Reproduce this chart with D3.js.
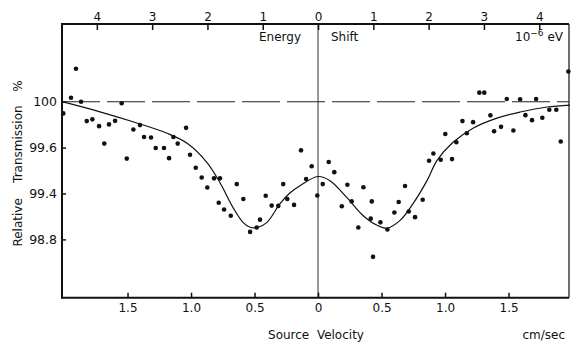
<!DOCTYPE html>
<html><head><meta charset="utf-8">
<script src="https://cdn.jsdelivr.net/npm/d3@7"></script>
<style>
html,body{margin:0;padding:0;background:#fff;}
svg text{font-family:"DejaVu Sans",sans-serif;fill:#111;}
</style></head>
<body><svg id="c" width="571" height="343"></svg>
<script>
// ---- data ----
const velX = [-2.006,-1.945,-1.906,-1.866,-1.821,-1.777,-1.724,-1.683,-1.646,-1.598,-1.546,-1.506,-1.454,-1.402,-1.370,-1.315,-1.278,-1.213,-1.173,-1.139,-1.105,-1.039,-1.008,-0.963,-0.916,-0.872,-0.819,-0.772,-0.782,-0.740,-0.687,-0.640,-0.588,-0.535,-0.483,-0.457,-0.412,-0.365,-0.313,-0.274,-0.242,-0.189,-0.134,-0.094,-0.050,-0.006,0.037,0.084,0.128,0.187,0.231,0.265,0.317,0.357,0.423,0.415,0.433,0.491,0.546,0.601,0.635,0.685,0.714,0.764,0.824,0.874,0.908,0.966,1.002,1.055,1.089,1.137,1.171,1.221,1.270,1.309,1.357,1.386,1.441,1.486,1.538,1.591,1.633,1.685,1.717,1.766,1.821,1.876,1.911,1.971];
const transY = [99.898,100.035,100.287,100.0,99.831,99.846,99.787,99.635,99.802,99.833,99.986,99.552,99.758,99.796,99.693,99.688,99.598,99.598,99.554,99.693,99.635,99.772,99.569,99.512,99.470,99.426,99.466,99.466,99.280,99.190,99.109,99.441,99.328,98.898,98.955,99.058,99.370,99.242,99.238,99.441,99.328,99.251,99.588,99.463,99.519,99.374,99.441,99.537,99.493,99.233,99.438,99.297,98.955,99.427,99.297,99.071,98.572,99.023,98.929,99.152,99.289,99.433,99.164,99.091,99.319,99.543,99.574,99.547,99.719,99.550,99.646,99.831,99.725,99.822,100.079,100.079,99.881,99.743,99.781,100.024,99.749,100.021,99.883,99.839,100.024,99.860,99.930,99.930,99.653,100.263];
const fitX = [-2.016,-1.717,-1.457,-1.189,-1.031,-0.874,-0.772,-0.669,-0.591,-0.535,-0.472,-0.402,-0.299,-0.220,-0.142,0,0.094,0.228,0.354,0.465,0.543,0.646,0.748,0.858,0.937,1.063,1.220,1.409,1.591,1.803,1.984];
const fitY = [100.0,99.912,99.825,99.725,99.638,99.535,99.447,99.216,99.023,98.959,98.959,99.023,99.267,99.403,99.434,99.474,99.456,99.345,99.113,98.984,98.946,99.049,99.267,99.456,99.544,99.646,99.769,99.857,99.910,99.954,99.971];
const velTicks = [-1.5,-1.0,-0.5,0,0.5,1.0,1.5];
const velTickLabels = ["1.5","1.0","0.5","0","0.5","1.0","1.5"];
const energyTicks = [-4,-3,-2,-1,0,1,2,3,4];
const yTicks = [98.8,99.4,99.6,100];
const yTickLabels = ["98.8","99.4","99.6","100"];
const velDomain = [-2.016, 1.976];
const cmPerEnergyUnit = 0.4354; // cm/sec per 10^-6 eV
const baseline = 100;

// ---- layout ----
const L = 62, R = 569, T = 24, B = 297.7;
const svg = d3.select("#c");
const x = d3.scaleLinear().domain(velDomain).range([L, R]);
const e = d3.scaleLinear().domain(velDomain.map(v => v / cmPerEnergyUnit)).range([L, R]);
const yStep = 45.9, y100 = 101.7;
const y = d3.scaleLinear().domain(yTicks)
  .range(yTicks.map((d, i) => y100 + (yTicks.length - 1 - i) * yStep));

// frame
const g = svg.append("g");
g.append("line").attr("x1", L).attr("x2", L).attr("y1", T - 1).attr("y2", B + 1).attr("stroke", "#111").attr("stroke-width", 2);
g.append("line").attr("x1", L).attr("x2", R).attr("y1", B).attr("y2", B).attr("stroke", "#111").attr("stroke-width", 2);
g.append("line").attr("x1", L).attr("x2", R).attr("y1", T).attr("y2", T).attr("stroke", "#111").attr("stroke-width", 2);
g.append("line").attr("x1", R).attr("x2", R).attr("y1", T).attr("y2", B).attr("stroke", "#222").attr("stroke-width", 1.3);
// zero line
g.append("line").attr("x1", x(0)).attr("x2", x(0)).attr("y1", T).attr("y2", B).attr("stroke", "#333").attr("stroke-width", 1);
// dashed 100% line
g.append("line").attr("x1", L).attr("x2", R).attr("y1", y(baseline)).attr("y2", y(baseline))
  .attr("stroke", "#222").attr("stroke-width", 1.1).attr("stroke-dasharray", "38,7");

// bottom axis
const bx = d3.axisBottom(x).tickValues(velTicks).tickSizeInner(-5).tickSizeOuter(0)
  .tickFormat((d, i) => velTickLabels[i]).tickPadding(6);
const gb = svg.append("g").attr("transform", `translate(0,${B})`).call(bx);
gb.select(".domain").remove();
gb.selectAll("line").attr("stroke", "#111").attr("stroke-width", 1.5);
gb.selectAll("text").attr("font-size", 12).style("fill", "#111");

// top axis
const tx = d3.axisTop(e).tickValues(energyTicks).tickSizeInner(-6).tickSizeOuter(0)
  .tickFormat(d => Math.abs(d)).tickPadding(3);
const gt = svg.append("g").attr("transform", `translate(0,${T})`).call(tx);
gt.select(".domain").remove();
gt.selectAll("line").attr("stroke", "#111").attr("stroke-width", 1.5);
gt.selectAll("text").attr("font-size", 12).style("fill", "#111");

// left axis
const ly = d3.axisLeft(y).tickValues(yTicks).tickSizeInner(-4).tickSizeOuter(0)
  .tickFormat((d, i) => yTickLabels[i]).tickPadding(5);
const gl = svg.append("g").attr("transform", `translate(${L},0)`).call(ly);
gl.select(".domain").remove();
gl.selectAll("line").attr("stroke", "#111").attr("stroke-width", 1.5);
gl.selectAll("text").attr("font-size", 12.5).style("fill", "#111");

// fit curve
const fit = fitX.map((d, i) => [d, fitY[i]]);
svg.append("path").datum(fit)
  .attr("d", d3.line().x(d => x(d[0])).y(d => y(d[1])).curve(d3.curveCatmullRom.alpha(0.5)))
  .attr("fill", "none").attr("stroke", "#111").attr("stroke-width", 1.2);

// points
const pts = velX.map((d, i) => [d, transY[i]]);
svg.append("g").selectAll("circle").data(pts).join("circle")
  .attr("cx", d => x(d[0])).attr("cy", d => y(d[1])).attr("r", 2.3).attr("fill", "#111");

// annotations
svg.append("text").attr("x", 259).attr("y", 41).attr("font-size", 12).text("Energy");
svg.append("text").attr("x", 331).attr("y", 41).attr("font-size", 12).text("Shift");
const ev = svg.append("text").attr("x", 563).attr("y", 41).attr("font-size", 12).attr("text-anchor", "end");
ev.append("tspan").text("10");
ev.append("tspan").attr("dy", -5).attr("font-size", 9).text("−6");
ev.append("tspan").attr("dy", 5).text(" eV");

svg.append("text").attr("x", 316).attr("y", 339).attr("font-size", 12).attr("text-anchor", "middle")
  .attr("xml:space", "preserve").text("Source  Velocity");
svg.append("text").attr("x", 565).attr("y", 339).attr("font-size", 12).attr("text-anchor", "end").text("cm/sec");

svg.append("text").attr("transform", "translate(22,176) rotate(-90)").attr("font-size", 12)
  .attr("text-anchor", "middle").attr("xml:space", "preserve").text("Relative    Transmission");
svg.append("text").attr("transform", "translate(22,86) rotate(-90)").attr("font-size", 12)
  .attr("text-anchor", "middle").text("%");
</script></body></html>
